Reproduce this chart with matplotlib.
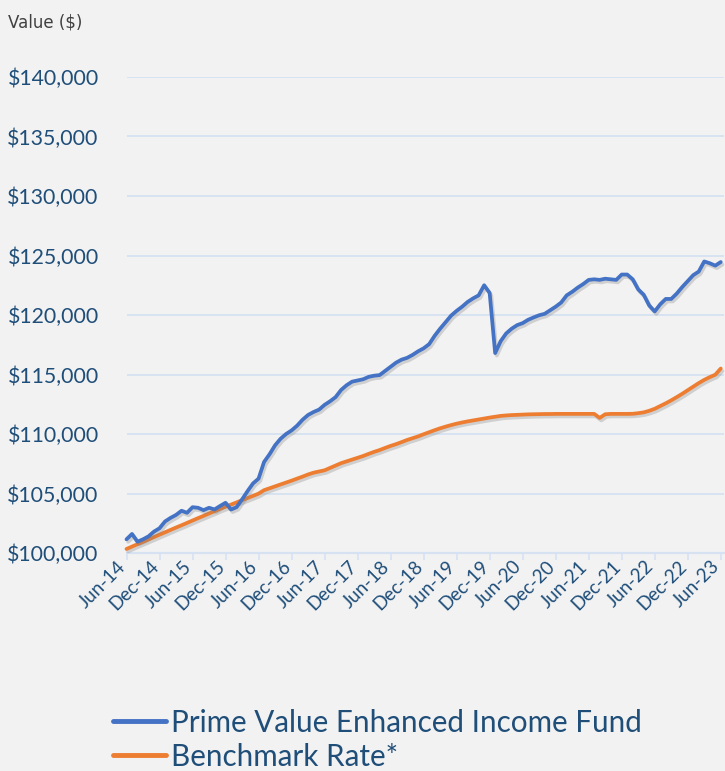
import matplotlib
matplotlib.use('Agg')
import matplotlib.pyplot as plt
import matplotlib.patheffects as pe
import numpy as np

# Monthly values, Jun-14 .. Jun-23
fund = [101150, 101600, 100950, 101150, 101400, 101800, 102080, 102650, 102950, 103200,
        103550, 103380, 103850, 103800, 103600, 103800, 103660, 103950, 104220, 103650,
        103850, 104500, 105200, 105850, 106250, 107650, 108300, 109050, 109600, 110000,
        110300, 110700, 111200, 111600, 111850, 112050, 112450, 112750, 113100, 113700,
        114100, 114400, 114500, 114600, 114800, 114900, 114950, 115300, 115650, 116000,
        116250, 116400, 116650, 116950, 117200, 117550, 118250, 118850, 119400, 119950,
        120350, 120700, 121100, 121400, 121650, 122500, 121850, 116800, 117800, 118450,
        118850, 119150, 119320, 119600, 119800, 119980, 120100, 120400, 120700, 121050,
        121650, 121950, 122300, 122600, 122950, 123000, 122950, 123050, 123000, 122950,
        123400, 123400, 123000, 122150, 121700, 120800, 120300, 120900, 121350, 121350,
        121800, 122350, 122850, 123350, 123650, 124500, 124350, 124150, 124450]

bench = [100340, 100540, 100740, 100940, 101140, 101340, 101540, 101740, 101940, 102140,
         102330, 102530, 102730, 102930, 103120, 103320, 103510, 103710, 103890, 104070,
         104250, 104440, 104620, 104800, 104990, 105280, 105440, 105600, 105760, 105920,
         106080, 106250, 106420, 106600, 106750, 106850, 106950, 107150, 107350, 107550,
         107700, 107850, 108000, 108150, 108330, 108500, 108650, 108830, 109000, 109150,
         109320, 109500, 109650, 109800, 109980, 110150, 110320, 110480, 110620, 110750,
         110870, 110970, 111060, 111140, 111220, 111300, 111380, 111450, 111520, 111560,
         111590, 111610, 111630, 111650, 111660, 111670, 111680, 111680, 111690, 111690,
         111690, 111690, 111690, 111690, 111690, 111690, 111350, 111660, 111690, 111690,
         111690, 111690, 111700, 111750, 111820, 111950, 112120, 112350, 112580, 112830,
         113100, 113380, 113680, 113980, 114280, 114550, 114780, 114980, 115500]

tick_labels = ['Jun-14', 'Dec-14', 'Jun-15', 'Dec-15', 'Jun-16', 'Dec-16', 'Jun-17',
               'Dec-17', 'Jun-18', 'Dec-18', 'Jun-19', 'Dec-19', 'Jun-20', 'Dec-20',
               'Jun-21', 'Dec-21', 'Jun-22', 'Dec-22', 'Jun-23']

series_names = ['Prime Value Enhanced Income Fund', 'Benchmark Rate*']

BG = '#f2f2f2'
GRID = '#d6e2f2'
TXT = '#1f4e79'
FONT = ['Lato', 'DejaVu Sans']
plt.rcParams['font.family'] = FONT

W, H = 725, 771
fig = plt.figure(figsize=(W / 100, H / 100), dpi=100, facecolor=BG)
ax = fig.add_axes([126.5 / W, 1 - 553 / H, 597 / W, 476 / H])
ax.set_facecolor(BG)

x = np.arange(len(fund))
shadow = [pe.SimpleLineShadow(offset=(1.2, -1.8), shadow_color='#808080', alpha=0.3),
          pe.Normal()]
ax.plot(x, fund, color='#4472C4', lw=2.7, solid_joinstyle='round', solid_capstyle='round',
        path_effects=shadow, label=series_names[0], clip_on=False, zorder=4)
ax.plot(x, bench, color='#ED7D31', lw=2.7, solid_joinstyle='round', solid_capstyle='round',
        path_effects=shadow, label=series_names[1], clip_on=False, zorder=3)

ax.set_xlim(0, 108.5)
ax.set_ylim(100000, 140000)
ax.set_yticks(np.arange(100000, 140001, 5000))
ax.yaxis.set_major_formatter(lambda v, p: f'${v:,.0f}')
ax.grid(axis='y', color=GRID, lw=1.3)
ax.set_axisbelow(True)
for s in ['top', 'right', 'left']:
    ax.spines[s].set_visible(False)
ax.spines['bottom'].set_color(GRID)
ax.spines['bottom'].set_linewidth(1.6)

ax.set_xticks(np.arange(0, 109, 6))
ax.set_xticklabels(tick_labels)
ax.tick_params(axis='y', length=0, pad=20, labelsize=15.3, labelcolor=TXT)
ax.tick_params(axis='x', length=5, width=1.2, color=GRID, pad=5.5, labelsize=13.5,
               labelcolor=TXT)
for lbl in ax.get_xticklabels():
    lbl.set_rotation(45)
    lbl.set_ha('right')
    lbl.set_va('baseline')
    lbl.set_rotation_mode('anchor')

fig.text(8 / W, 1 - 22 / H, 'Value ($)', fontsize=12, color='#404040', va='center',
         ha='left', family=['DejaVu Sans'])

leg = fig.legend(loc='upper left', bbox_to_anchor=(101 / W, 1 - 697 / H), frameon=False,
                 fontsize=21.3, handlelength=1.8, handletextpad=0.17, labelspacing=0.2,
                 borderaxespad=0)
for t in leg.get_texts():
    t.set_color(TXT)
for l in leg.get_lines():
    l.set_linewidth(3.5)
    l.set_path_effects([])

fig.savefig('out.png', dpi=100, facecolor=BG)
